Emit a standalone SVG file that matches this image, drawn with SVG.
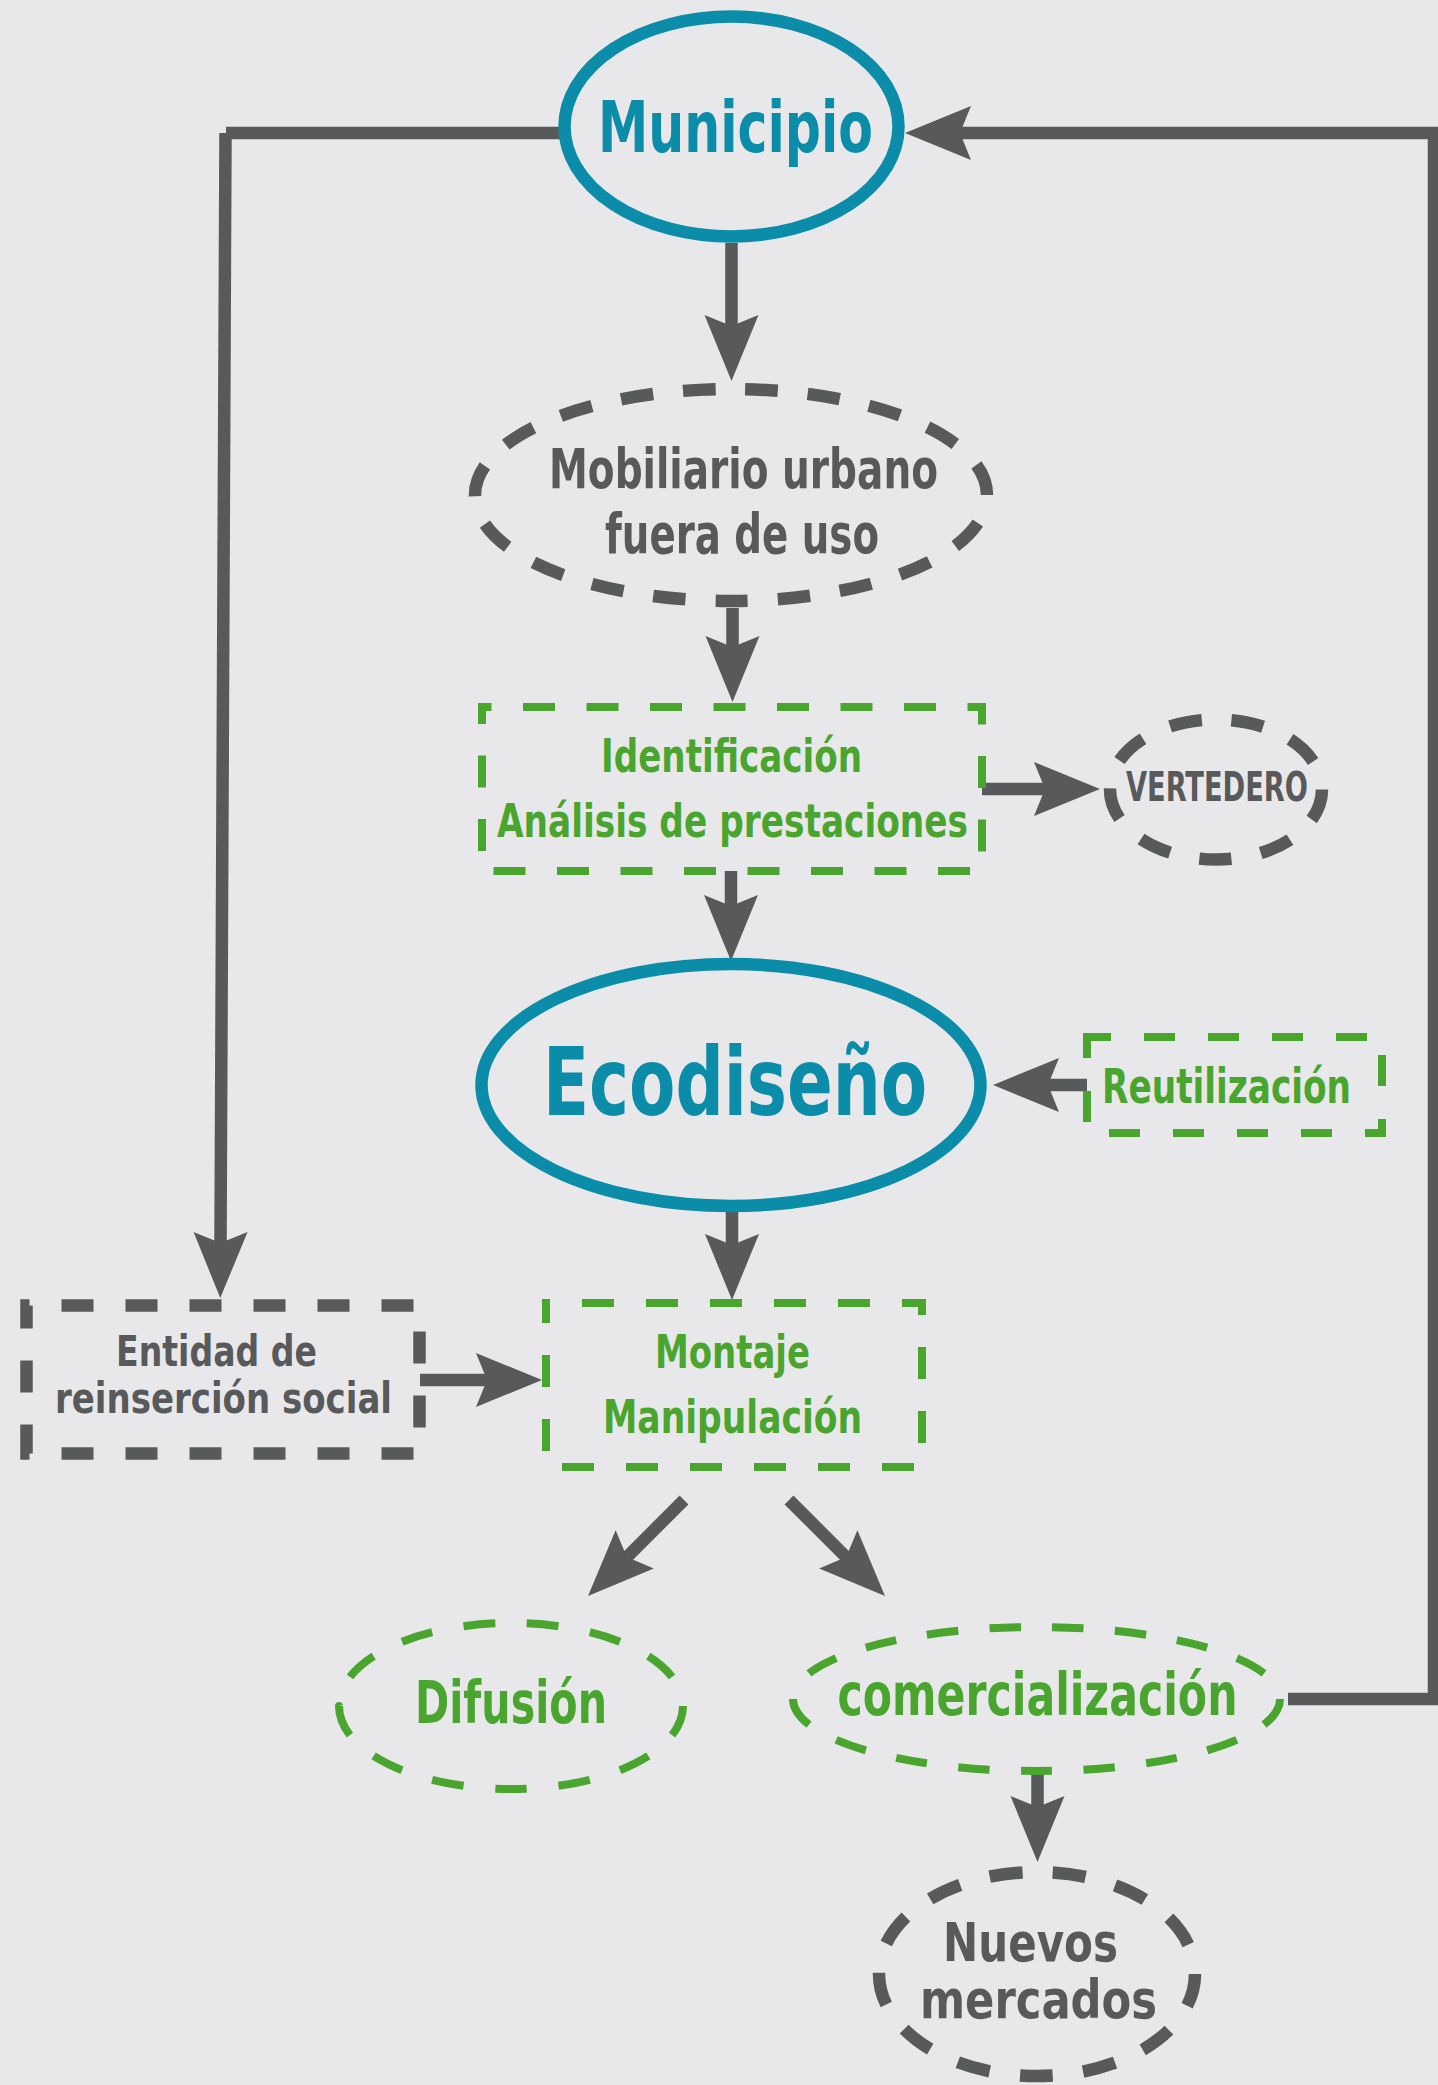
<svg xmlns="http://www.w3.org/2000/svg" width="1438" height="2085" viewBox="0 0 1438 2085">
<style>
.t{font-family:"Liberation Sans Narrow","DejaVu Sans Condensed","Liberation Sans",sans-serif;font-weight:bold;text-anchor:middle}
.gray{fill:#58595b}
.green{fill:#4aa52e}
.teal{fill:#0b8ca9}
.conn{fill:none;stroke:#58595b;stroke-width:12.5;stroke-linejoin:miter;marker-end:url(#ah)}
.conn0{fill:none;stroke:#58595b;stroke-width:12.5;stroke-linejoin:miter}
.solid{fill:none;stroke:#0b8ca9;stroke-width:12.5}
.dg{fill:none;stroke:#58595b;stroke-width:12.5}
.dgr{fill:none;stroke:#4aa52e;stroke-width:8}
</style>
<defs>
<marker id="ah" markerUnits="userSpaceOnUse" markerWidth="80" markerHeight="80" refX="0" refY="0" orient="auto" overflow="visible">
<path d="M55,0 L-11,-27 L0,0 L-11,27 Z" fill="#58595b"/>
</marker>
</defs>
<rect x="0" y="0" width="1438" height="2085" fill="#e8e8ea"/>

<g id="connectors">
<path class="conn" d="M731.5,243 V326"/>
<path class="conn" d="M732.5,608 V647"/>
<path class="conn" d="M731,871 V906"/>
<path class="conn" d="M732,1212 V1245"/>
<path class="conn" d="M1087,1085 H1048"/>
<path class="conn" d="M982,789 H1045"/>
<path class="conn" d="M420,1380 H487"/>
<path class="conn" d="M684,1500 L626.9,1557.1"/>
<path class="conn" d="M789,1500 L846.1,1557.1"/>
<path class="conn" d="M1037.5,1771 V1807"/>
<path class="conn0" d="M563,133 H226"/>
<path class="conn" d="M225.5,133 L220.5,1243"/>
<path class="conn" d="M1288,1699 H1434 V133 H960"/>
</g>

<g id="municipio">
<ellipse class="solid" cx="731.5" cy="126.5" rx="167" ry="110"/>
<text class="t teal" x="735.5" y="152" font-size="72" textLength="275" lengthAdjust="spacingAndGlyphs">Municipio</text>
</g>

<g id="mobiliario">
<path class="dg" d="M987,495 A256,106 0 1 1 475,495 A256,106 0 1 1 987,495 Z" pathLength="1900" stroke-dasharray="52 48" stroke-dashoffset="52"/>
<text class="t gray" x="743.5" y="488" font-size="56" textLength="389" lengthAdjust="spacingAndGlyphs">Mobiliario urbano</text>
<text class="t gray" x="742" y="553" font-size="56" textLength="274" lengthAdjust="spacingAndGlyphs">fuera de uso</text>
</g>

<g id="identificacion">
<rect class="dgr" x="482" y="707" width="500" height="164" stroke-dasharray="32 31.5" stroke-dashoffset="22.5"/>
<text class="t green" x="731.5" y="772" font-size="47" textLength="261" lengthAdjust="spacingAndGlyphs">Identificación</text>
<text class="t green" x="732.5" y="837" font-size="47" textLength="471" lengthAdjust="spacingAndGlyphs">Análisis de prestaciones</text>
</g>

<g id="vertedero">
<path class="dg" d="M1322,789.5 A106,70 0 1 1 1110,789.5 A106,70 0 1 1 1322,789.5 Z" pathLength="900" stroke-dasharray="52 48"/>
<text class="t gray" x="1217" y="801" font-size="40" textLength="182" lengthAdjust="spacingAndGlyphs">VERTEDERO</text>
</g>

<g id="ecodiseno">
<ellipse class="solid" cx="731" cy="1085" rx="249.5" ry="121"/>
<text class="t teal" x="735" y="1115" font-size="94" textLength="384" lengthAdjust="spacingAndGlyphs">Ecodiseño</text>
</g>

<g id="reutilizacion">
<rect class="dgr" x="1087" y="1037" width="295" height="96" stroke-dasharray="31 33" stroke-dashoffset="7"/>
<text class="t green" x="1226.5" y="1103" font-size="48" textLength="249" lengthAdjust="spacingAndGlyphs">Reutilización</text>
</g>

<g id="entidad">
<rect class="dg" x="26.5" y="1305.5" width="393" height="148" stroke-dasharray="32 32" stroke-dashoffset="29"/>
<text class="t gray" x="216.5" y="1366" font-size="42" textLength="201" lengthAdjust="spacingAndGlyphs">Entidad de</text>
<text class="t gray" x="223.5" y="1413" font-size="42" textLength="337" lengthAdjust="spacingAndGlyphs">reinserción social</text>
</g>

<g id="montaje">
<rect class="dgr" x="546" y="1303" width="376" height="164" stroke-dasharray="32 32" stroke-dashoffset="28"/>
<text class="t green" x="732.5" y="1368" font-size="47" textLength="155" lengthAdjust="spacingAndGlyphs">Montaje</text>
<text class="t green" x="732.5" y="1433" font-size="47" textLength="259" lengthAdjust="spacingAndGlyphs">Manipulación</text>
</g>

<g id="difusion">
<path class="dgr" d="M683,1706 A172,83 0 1 1 339,1706 A172,83 0 1 1 683,1706 Z" pathLength="1300" stroke-dasharray="50 50"/>
<text class="t green" x="511" y="1723" font-size="59" textLength="192" lengthAdjust="spacingAndGlyphs">Difusión</text>
</g>

<g id="comercializacion">
<path class="dgr" d="M1280,1699 A243.5,72 0 1 1 793,1699 A243.5,72 0 1 1 1280,1699 Z" pathLength="1700" stroke-dasharray="50 50"/>
<text class="t green" x="1037.5" y="1715" font-size="58" textLength="400" lengthAdjust="spacingAndGlyphs">comercialización</text>
</g>

<g id="nuevos-mercados">
<path class="dg" d="M1195,1974 A158,102 0 1 1 879,1974 A158,102 0 1 1 1195,1974 Z" pathLength="1300" stroke-dasharray="52 48"/>
<text class="t gray" x="1030.5" y="1961" font-size="54" textLength="175" lengthAdjust="spacingAndGlyphs">Nuevos</text>
<text class="t gray" x="1038.5" y="2018" font-size="54" textLength="237" lengthAdjust="spacingAndGlyphs">mercados</text>
</g>
</svg>
